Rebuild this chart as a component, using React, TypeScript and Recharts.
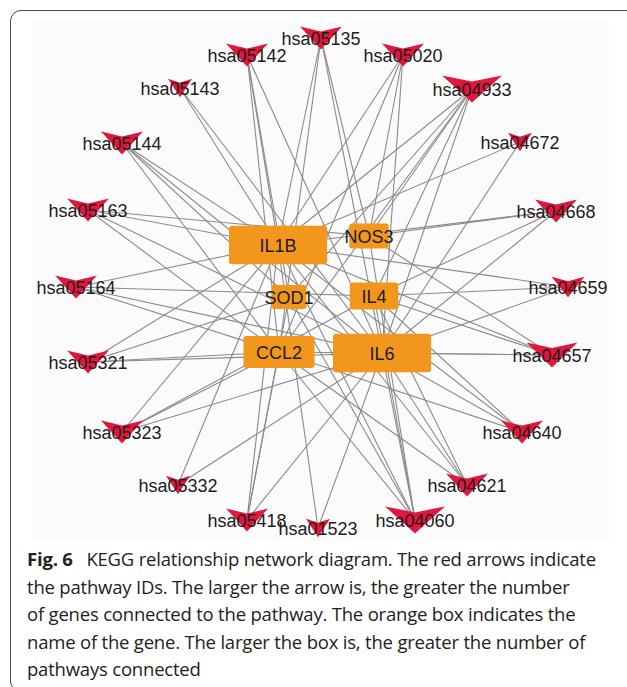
import { Scatter, ScatterChart, XAxis, YAxis } from "recharts";

// pathway nodes (red arrows)
const PATHWAYS = [
  "hsa05142", "hsa05135", "hsa05020", "hsa04933", "hsa05143", "hsa04672", "hsa05144",
  "hsa05163", "hsa04668", "hsa05164", "hsa04659", "hsa05321", "hsa04657", "hsa05323",
  "hsa04640", "hsa05332", "hsa04621", "hsa04060", "hsa05418", "hsa01523",
];
const PATHWAY_X = [247, 321, 403, 472, 180, 520, 122, 88, 556, 76, 568, 88, 552, 122, 522, 178, 467, 415, 247, 318];
const PATHWAY_Y = [55, 38, 55, 89, 88, 142, 143, 210, 211, 287, 287, 362, 355, 432, 432, 485, 485, 520, 520, 528];

// gene nodes (orange boxes)
const GENES = ["IL1B", "NOS3", "SOD1", "IL4", "CCL2", "IL6"];
const GENE_X = [278, 369, 289, 374, 279, 382];
const GENE_Y = [245, 236, 297, 296, 352, 353];

// genes linked to each pathway, same order as PATHWAYS
const PATHWAY_GENES = [
  ["IL1B", "IL6", "CCL2", "SOD1"],
  ["IL1B", "IL6", "CCL2", "NOS3"],
  ["IL1B", "IL6", "CCL2", "NOS3"],
  ["IL1B", "IL6", "CCL2", "IL4", "NOS3", "SOD1"],
  ["IL1B", "IL6"],
  ["IL1B", "IL6"],
  ["IL1B", "IL6", "CCL2", "SOD1"],
  ["IL1B", "IL6", "CCL2", "NOS3"],
  ["IL1B", "IL6", "NOS3", "IL4"],
  ["IL1B", "IL6", "CCL2", "IL4"],
  ["IL1B", "IL6", "IL4"],
  ["IL1B", "IL6", "CCL2", "SOD1"],
  ["IL1B", "IL6", "CCL2", "IL4", "NOS3"],
  ["IL1B", "IL6", "CCL2", "IL4"],
  ["IL1B", "IL6", "CCL2", "IL4"],
  ["IL1B", "IL6"],
  ["IL1B", "IL6", "CCL2", "IL4"],
  ["IL1B", "IL6", "CCL2", "IL4", "NOS3", "SOD1"],
  ["IL1B", "IL6", "CCL2", "SOD1"],
  ["IL1B", "IL6"],
];

const CAPTION = [
  "KEGG relationship network diagram. The red arrows indicate",
  "the pathway IDs. The larger the arrow is, the greater the number",
  "of genes connected to the pathway. The orange box indicates the",
  "name of the gene. The larger the box is, the greater the number of",
  "pathways connected",
];

const W = 627;
const H = 560;
const LABEL_FONT = "'Liberation Sans', Arial, sans-serif";

const pathwayData = PATHWAYS.map((name, i) => ({
  name,
  x: PATHWAY_X[i],
  y: PATHWAY_Y[i],
  deg: PATHWAY_GENES[i].length,
}));

const geneData = GENES.map((name, j) => ({
  name,
  x: GENE_X[j],
  y: GENE_Y[j],
  deg: PATHWAY_GENES.filter((g) => g.includes(name)).length,
}));

const edges = PATHWAYS.flatMap((p, i) =>
  PATHWAY_GENES[i].map((g) => {
    const j = GENES.indexOf(g);
    return {
      id: `${p}-${g}`,
      pts: [
        { x: PATHWAY_X[i], y: PATHWAY_Y[i] },
        { x: GENE_X[j], y: GENE_Y[j] },
      ],
    };
  })
);

function ArrowNode(props: any) {
  const { cx, cy, payload } = props;
  const w = 6 + 9 * payload.deg;
  const h = 14 + 2.2 * payload.deg;
  const top = cy - h / 2;
  const pts = [
    [cx - w / 2, top],
    [cx, top + h * 0.22],
    [cx + w / 2, top],
    [cx, top + h],
  ]
    .map((p) => p.join(","))
    .join(" ");
  return (
    <g>
      <polygon points={pts} fill="#e2173d" />
      <text
        x={cx}
        y={cy + 1}
        textAnchor="middle"
        dominantBaseline="central"
        fontFamily={LABEL_FONT}
        fontSize={18}
        fill="#1c1c1c"
      >
        {payload.name}
      </text>
    </g>
  );
}

function GeneNode(props: any) {
  const { cx, cy, payload } = props;
  const w = 8 + 4.5 * payload.deg;
  const h = 17.5 + 1.05 * payload.deg;
  return (
    <g>
      <rect x={cx - w / 2} y={cy - h / 2} width={w} height={h} rx={3} fill="#f3961c" />
      <text
        x={cx}
        y={cy + 1}
        textAnchor="middle"
        dominantBaseline="central"
        fontFamily={LABEL_FONT}
        fontSize={18}
        fill="#1c1c1c"
      >
        {payload.name}
      </text>
    </g>
  );
}

export default function App() {
  return (
    <div
      style={{
        position: "absolute",
        left: 0,
        top: 0,
        width: W,
        height: 687,
        overflow: "hidden",
        background: "#fff",
      }}
    >
      <div
        style={{
          position: "absolute",
          left: 10,
          top: 10,
          width: 700,
          height: 680,
          border: "1px solid #4a4a4a",
          borderRadius: 11,
        }}
      />
      <div style={{ position: "absolute", left: 33, top: 22, width: 576, height: 519, background: "#fbfbfb" }} />
      <div style={{ position: "absolute", left: 0, top: 0 }}>
        <ScatterChart width={W} height={H} margin={{ top: 0, right: 0, bottom: 0, left: 0 }}>
          <XAxis type="number" dataKey="x" domain={[0, W]} hide />
          <YAxis type="number" dataKey="y" domain={[0, H]} reversed hide />
          {edges.map((e) => (
            <Scatter
              key={e.id}
              data={e.pts}
              line={{ stroke: "#8a8a8a", strokeWidth: 1.1 }}
              shape={() => <g />}
              isAnimationActive={false}
              legendType="none"
            />
          ))}
          <Scatter data={geneData} shape={GeneNode} isAnimationActive={false} />
          <Scatter data={pathwayData} shape={ArrowNode} isAnimationActive={false} />
        </ScatterChart>
      </div>
      <div
        style={{
          position: "absolute",
          left: 27,
          top: 545,
          fontFamily: "'Open Sans', sans-serif",
          fontSize: 18.5,
          lineHeight: "27.5px",
          letterSpacing: -0.2,
          color: "#222",
          whiteSpace: "nowrap",
        }}
      >
        {CAPTION.map((line, i) => (
          <div key={i}>
            {i === 0 && <b style={{ fontWeight: 700 }}>Fig. 6</b>}
            {i === 0 && "\u2002 "}
            {line}
          </div>
        ))}
      </div>
    </div>
  );
}
